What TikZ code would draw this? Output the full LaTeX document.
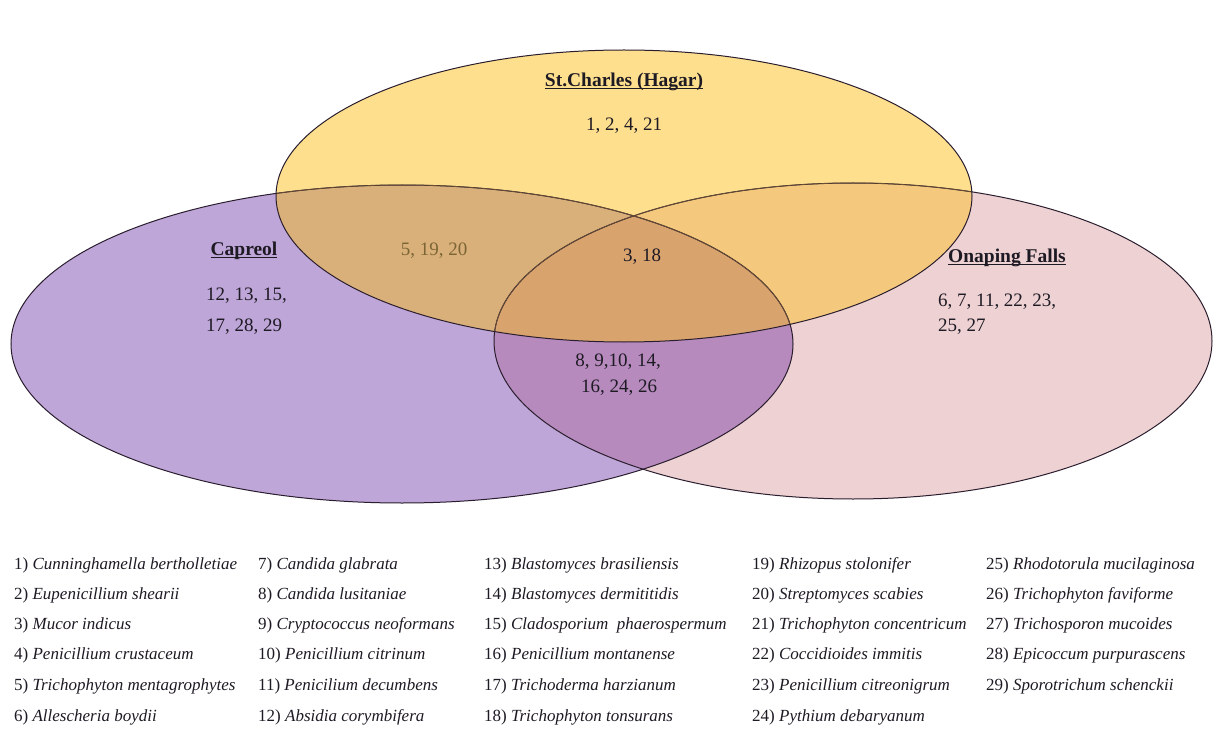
\documentclass[tikz,border=0pt]{standalone}
\usepackage{fontspec}
\setmainfont{Liberation Serif}
\definecolor{cP}{HTML}{BFA6D8}
\definecolor{cK}{HTML}{EED2D3}
\definecolor{cY}{HTML}{FEDF8E}
\definecolor{cPY}{HTML}{DAB07A}
\definecolor{cYK}{HTML}{F4C97D}
\definecolor{cPK}{HTML}{B68ABD}
\definecolor{cPYK}{HTML}{D9A36E}
\definecolor{cLine}{HTML}{2A1E2E}
\definecolor{cInner}{HTML}{6B4E34}
\definecolor{cText}{HTML}{1E1A24}
\definecolor{cFaded}{HTML}{7B6535}
\newcommand{\myul}[1]{\setbox0\hbox{#1}\rlap{\rule[-2.8pt]{\wd0}{1.6pt}}\box0}
\begin{document}
\begin{tikzpicture}[x=1pt,y=-1pt,
  title/.style={inner sep=0pt, text=cText, font=\fontsize{19.5}{22}\selectfont\bfseries},
  nums/.style={inner sep=0pt, text=cText, font=\fontsize{19}{22}\selectfont},
  leg/.style={anchor=west, inner sep=0pt, text=cText, font=\fontsize{17}{20}\selectfont},
  outline/.style={draw=cLine, line width=1pt},
  inneroutline/.style={draw=cInner, line width=0.7pt}]
\useasboundingbox (0,0) rectangle (1213,738);
\fill[white] (0,0) rectangle (1213,738);
\def\ellP{(402,344) ellipse [x radius=391pt, y radius=159pt]}
\def\ellK{(853,341) ellipse [x radius=359pt, y radius=158pt]}
\def\ellY{(624,196) ellipse [x radius=348pt, y radius=146pt]}
% base fills
\fill[cP] \ellP;
\fill[cK] \ellK;
\fill[cY] \ellY;
% yellow & pink
\begin{scope}
  \clip \ellK;
  \fill[cYK] \ellY;
\end{scope}
% purple overlaps
\begin{scope}
  \clip \ellP;
  \fill[cPK] \ellK;
  \fill[cPY] \ellY;
  \clip \ellK;
  \fill[cPYK] \ellY;
\end{scope}
% outlines
\draw[outline] \ellP;
\draw[outline] \ellK;
\begin{scope}
  \clip \ellY;
  \draw[inneroutline] \ellP;
  \draw[inneroutline] \ellK;
\end{scope}
\draw[outline] \ellY;
% set labels
\node[title] (tS) at (624,82) {\myul{St.Charles (Hagar)}};
\node[nums] (nS) at (624,126) {1, 2, 4, 21};
\node[title] (tC) at (244,251) {\myul{Capreol}};
\node[nums, anchor=west] (nC1) at (206,296) {12, 13, 15,};
\node[nums, anchor=west] (nC2) at (206,327) {17, 28, 29};
\node[title] (tO) at (1007,258) {\myul{Onaping Falls}};
\node[nums, anchor=west] (nO1) at (938,302) {6, 7, 11, 22, 23,};
\node[nums, anchor=west] (nO2) at (938,327) {25, 27};
\node[nums, text=cFaded] (nCS) at (434,251) {5, 19, 20};
\node[nums] (nAll) at (642,257) {3, 18};
\node[nums] (nCO1) at (618,362) {8, 9,10, 14,};
\node[nums] (nCO2) at (619,388) {16, 24, 26};
% legend column 1
\node[leg] (l1) at (14,565) {1) \textit{Cunninghamella bertholletiae}};
\node[leg] (l2) at (14,595) {2) \textit{Eupenicillium shearii}};
\node[leg] (l3) at (14,625) {3) \textit{Mucor indicus}};
\node[leg] (l4) at (14,655) {4) \textit{Penicillium crustaceum}};
\node[leg] (l5) at (14,686) {5) \textit{Trichophyton mentagrophytes}};
\node[leg] (l6) at (14,717) {6) \textit{Allescheria boydii}};
% legend column 2
\node[leg] (l7) at (258,565) {7) \textit{Candida glabrata}};
\node[leg] (l8) at (258,595) {8) \textit{Candida lusitaniae}};
\node[leg] (l9) at (258,625) {9) \textit{Cryptococcus neoformans}};
\node[leg] (l10) at (258,655) {10) \textit{Penicillium citrinum}};
\node[leg] (l11) at (258,686) {11) \textit{Penicilium decumbens}};
\node[leg] (l12) at (258,717) {12) \textit{Absidia corymbifera}};
% legend column 3
\node[leg] (l13) at (484,565) {13) \textit{Blastomyces brasiliensis}};
\node[leg] (l14) at (484,595) {14) \textit{Blastomyces dermititidis}};
\node[leg] (l15) at (484,625) {15) \textit{Cladosporium\ \ phaerospermum}};
\node[leg] (l16) at (484,655) {16) \textit{Penicillium montanense}};
\node[leg] (l17) at (484,686) {17) \textit{Trichoderma harzianum}};
\node[leg] (l18) at (484,717) {18) \textit{Trichophyton tonsurans}};
% legend column 4
\node[leg] (l19) at (752,565) {19) \textit{Rhizopus stolonifer}};
\node[leg] (l20) at (752,595) {20) \textit{Streptomyces scabies}};
\node[leg] (l21) at (752,625) {21) \textit{Trichophyton concentricum}};
\node[leg] (l22) at (752,655) {22) \textit{Coccidioides immitis}};
\node[leg] (l23) at (752,686) {23) \textit{Penicillium citreonigrum}};
\node[leg] (l24) at (752,717) {24) \textit{Pythium debaryanum}};
% legend column 5
\node[leg] (l25) at (986,565) {25) \textit{Rhodotorula mucilaginosa}};
\node[leg] (l26) at (986,595) {26) \textit{Trichophyton faviforme}};
\node[leg] (l27) at (986,625) {27) \textit{Trichosporon mucoides}};
\node[leg] (l28) at (986,655) {28) \textit{Epicoccum purpurascens}};
\node[leg] (l29) at (986,686) {29) \textit{Sporotrichum schenckii}};
\end{tikzpicture}
\end{document}
